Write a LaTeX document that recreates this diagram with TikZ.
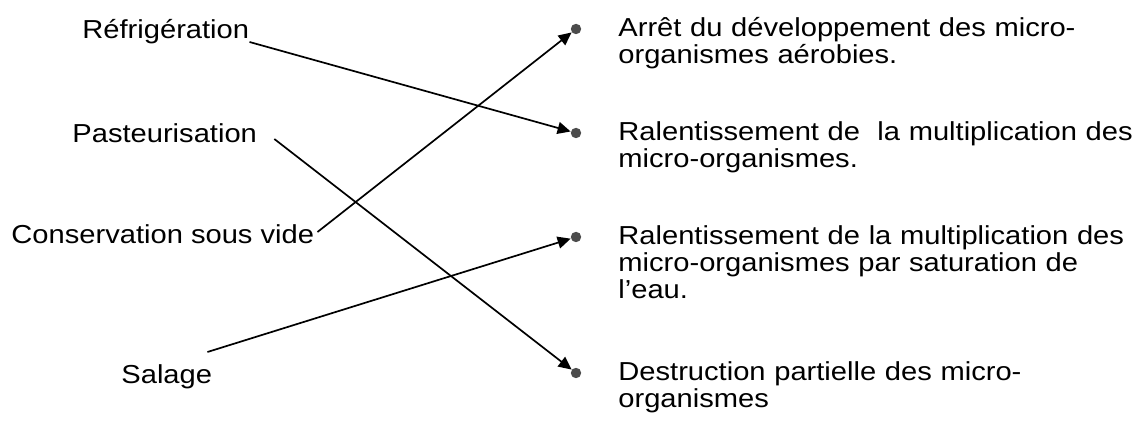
\documentclass[tikz,border=0pt]{standalone}
\usepackage{fontspec}
\setmainfont{Liberation Sans}[FakeStretch=1.12]
\usetikzlibrary{arrows.meta, positioning, calc}

\begin{document}
\begin{tikzpicture}[
  x=0.5pt, y=-0.5pt,
  font=\fontsize{13pt}{13.5pt}\selectfont,
  >={Triangle[length=6.5pt, width=6pt]},
  meth/.style  ={inner sep=0pt, anchor=base west},
  effect/.style={inner sep=0pt, anchor=base west, text width=268pt, align=left},
  bullet/.style={circle, inner sep=0pt, minimum size=5.2pt, fill=black!70},
  arr/.style   ={->, line width=0.85pt, draw=black}
]
\useasboundingbox (0,0) rectangle (1141,421);

% ---- methods (left column) ----
\node[meth] (refr) at (82,39)   {Réfrigération};
\node[meth] (past) at (72,143)  {Pasteurisation};
\node[meth] (cons) at (11,244)  {Conservation sous vide};
\node[meth] (sal)  at (121,384) {Salage};

% ---- effects (right column) ----
\node[effect] (arret)  at (618,37)  {Arrêt du développement des micro-\\organismes aérobies.};
\node[effect] (ral)    at (618,141) {Ralentissement de\ \ la multiplication des\\micro-organismes.};
\node[effect] (ralsel) at (618,245) {Ralentissement de la multiplication des\\micro-organismes par saturation de\\l’eau.};
\node[effect] (destr)  at (618,381) {Destruction partielle des micro-\\organismes};

% ---- bullets ----
\foreach \e in {arret, ral, ralsel, destr}
  \node[bullet] (d\e) at ($(\e.base west)+(-42,-8)$) {};

% ---- edges ----
\draw[arr] ($(refr.base east)+(0,3)$)   -- (dral);
\draw[arr] ($(past.base east)+(17,-4)$) -- (ddestr);
\draw[arr] ($(cons.base east)+(3,-12)$) -- (darret);
\draw[arr] ($(sal.base east)+(-5,-32)$) -- (dralsel);

\end{tikzpicture}
\end{document}
